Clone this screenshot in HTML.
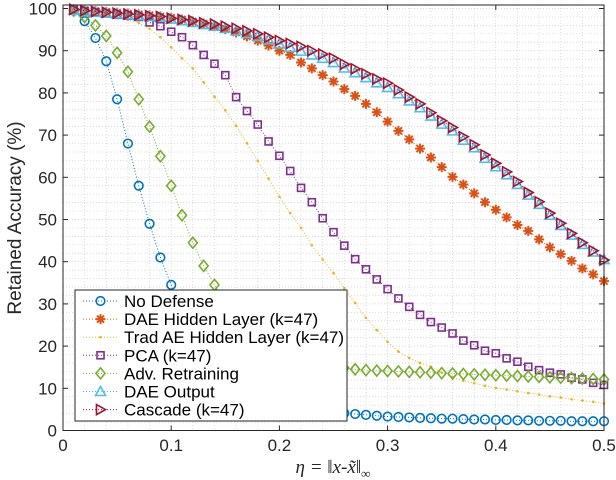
<!DOCTYPE html>
<html><head><meta charset="utf-8"><style>
html,body{margin:0;padding:0;background:#fff;}
svg{display:block;font-family:"Liberation Sans",sans-serif;}
</style></head><body>
<svg id="chart" width="616" height="480" viewBox="0 0 616 480" xmlns="http://www.w3.org/2000/svg">
<rect x="0" y="0" width="616" height="480" fill="#fff"/>
<g id="grid"></g>
<g id="series"></g>
<rect x="63" y="5" width="541" height="425.5" fill="none" stroke="#262626" stroke-width="1"/>
<g id="ticks"></g>
<text transform="translate(21,218) rotate(-90)" text-anchor="middle" font-size="19" fill="#262626">Retained Accuracy (%)</text>
<text x="333" y="473" text-anchor="middle" font-size="19" fill="#262626" font-family="Liberation Serif,serif" font-style="italic">η = ‖x-x̃‖<tspan font-size="13" dy="5">∞</tspan></text>
<g id="legend"></g>
</svg>
<script>
const xs = [0.01,0.02,0.03,0.04,0.05,0.06,0.07,0.08,0.09,0.10,0.11,0.12,0.13,0.14,0.15,0.16,0.17,0.18,0.19,0.20,0.21,0.22,0.23,0.24,0.25,0.26,0.27,0.28,0.29,0.30,0.31,0.32,0.33,0.34,0.35,0.36,0.37,0.38,0.39,0.40,0.41,0.42,0.43,0.44,0.45,0.46,0.47,0.48,0.49,0.50];
const noDefense = [99.5,97,93,87.5,78.5,68,58,49,41,34.5,29,24.5,20.5,17,14.5,12.5,10.5,9.3,8.2,7,6.3,5.6,5,4.7,4.4,4.1,3.9,3.7,3.5,3.3,3.2,3.1,3.0,2.9,2.8,2.8,2.7,2.6,2.6,2.5,2.5,2.4,2.4,2.3,2.3,2.3,2.2,2.2,2.2,2.2];
const daeHidden = [99.8,99.6,99.4,99.2,99,98.8,98.6,98.4,98.1,97.8,97.4,96.9,96.4,95.8,95.1,94.3,93.4,92.4,91.2,90,89,87.2,85.8,84.2,82.7,80.9,79.3,77.4,75.4,73.2,71,69,66.8,64.7,62.4,60.1,58.3,56.2,54.1,52.3,50.5,48.7,47.3,45.3,43.4,41.8,40.2,38.4,37,35.4];
const tradAE = [99.5,99.2,98.8,98.4,97.9,97.3,96.6,95.2,93.2,90.8,88.2,85.8,82.5,79.1,75.9,72.2,68.1,63.9,59.7,55.4,51.5,48,43.9,40.5,37.3,33.7,30.2,26.7,23.8,21,18.7,17.2,16,15.1,13.7,12.7,11.8,11.2,10.6,10.1,9.7,9.3,8.9,8.5,8.1,7.8,7.4,7.1,6.8,6.4];
const pca = [99.7,99.4,99.1,98.8,98.5,98.3,98,96.7,95.8,94.5,93.2,91.3,89,86.9,84.2,79,75.7,72.5,68.5,65.1,61.5,57.5,54.1,50.3,47,43.8,40.6,38.2,35.8,33.5,31.3,29.3,27.4,25.7,24.4,23,21.3,20.2,18.9,18.3,17.1,16.3,15.1,14.3,13.7,13.3,12.5,12.1,11.3,10.8];
const advRetrain = [99.5,98,96,93.5,89.5,85,78.5,72,65,58,51,44.5,39,34.5,30,27,24.5,22,20,18.5,17.5,17,16.3,15.8,15.3,14.8,14.5,14.3,14.2,14.1,14,13.9,13.8,13.7,13.6,13.5,13.4,13.3,13.2,13.1,13,12.9,12.8,12.7,12.6,12.5,12.4,12.3,12.2,12.1];
const daeOutput = [99.6,99.3,99.1,98.9,98.7,98.5,98.3,98.1,97.9,97.5,97.1,96.7,96.2,95.8,95.3,94.7,94.1,93.4,92.6,91.6,90.8,89.9,89,88.2,87.2,85.9,84.8,83.6,82.4,81.3,79.8,78.1,76.5,74.5,72.6,71,68.8,67,64.5,62.5,60.6,58.3,55.8,53.6,51,48.6,46.3,44.1,42.3,40.5];
const cascade = [99.8,99.5,99.3,99.1,98.9,98.7,98.5,98.3,98.1,97.7,97.4,97.1,96.6,96.3,95.8,95.3,94.7,94,93.2,92.4,91.7,91,90,89.2,88.2,86.8,85.7,84.5,83.3,82.3,80.7,79,77.4,75.3,73.4,71.8,69.6,67.7,65.3,63.3,61.3,59,56.4,54.2,51.5,49.1,46.7,44.5,42.6,40.4];
const xTicks = [0,0.1,0.2,0.3,0.4,0.5];
const yTicks = [0,10,20,30,40,50,60,70,80,90,100];
const seriesNames = ["No Defense","DAE Hidden Layer (k=47)","Trad AE Hidden Layer (k=47)","PCA (k=47)","Adv. Retraining","DAE Output","Cascade (k=47)"];

const NS="http://www.w3.org/2000/svg";
const X0=63,X1=604,Y0=430.5,PY=4.22;
function sx(v){return X0+(X1-X0)*v/0.5;}
function sy(v){return Y0-v*PY;}
function mk(tag,attrs,parent){const e=document.createElementNS(NS,tag);for(const k in attrs)e.setAttribute(k,attrs[k]);parent.appendChild(e);return e;}

const grid=document.getElementById('grid');
for(let i=1;i<25;i++){const v=i*0.02;const l=mk('line',{x1:sx(v),x2:sx(v),y1:5,y2:Y0,stroke:'#cfcfcf','stroke-width':0.7,'stroke-dasharray':'1,2'},grid);

}
for(let v=2;v<=100;v+=2){const l=mk('line',{x1:X0,x2:X1,y1:sy(v),y2:sy(v),stroke:'#cfcfcf','stroke-width':0.7,'stroke-dasharray':'1,2'},grid);

}

const ticks=document.getElementById('ticks');
xTicks.forEach(v=>{
 mk('line',{x1:sx(v),x2:sx(v),y1:Y0,y2:Y0-5,stroke:'#262626'},ticks);
 mk('line',{x1:sx(v),x2:sx(v),y1:5,y2:10,stroke:'#262626'},ticks);
 const t=mk('text',{x:sx(v),y:451,'text-anchor':'middle','font-size':17,fill:'#262626'},ticks);t.textContent=String(v);
 
 
});
yTicks.forEach(v=>{
 mk('line',{x1:X0,x2:X0+5,y1:sy(v),y2:sy(v),stroke:'#262626'},ticks);
 mk('line',{x1:X1,x2:X1-5,y1:sy(v),y2:sy(v),stroke:'#262626'},ticks);
 const t=mk('text',{x:57,y:sy(v)+6,'text-anchor':'end','font-size':17,fill:'#262626'},ticks);t.textContent=String(v);
 
 
});

const colors=['#0072BD','#D95319','#EDB120','#7E2F8E','#77AC30','#4DBEEE','#A2142F'];
const kinds=['circle','star','dot','square','diamond','tri','rtri'];
function marker(kind,x,y,c,g){
 if(kind==='circle')return mk('circle',{cx:x,cy:y,r:4.3,fill:'none',stroke:c,'stroke-width':1.6},g);
 if(kind==='dot')return mk('circle',{cx:x,cy:y,r:1.3,fill:c},g);
 if(kind==='square')return mk('rect',{x:x-3.5,y:y-3.5,width:7,height:7,fill:'none',stroke:c,'stroke-width':1.6},g);
 if(kind==='diamond')return mk('path',{d:`M${x},${y-5.5}L${x+4.5},${y}L${x},${y+5.5}L${x-4.5},${y}Z`,fill:'none',stroke:c,'stroke-width':1.6},g);
 if(kind==='tri')return mk('path',{d:`M${x},${y-5}L${x+5},${y+4}L${x-5},${y+4}Z`,fill:'none',stroke:c,'stroke-width':1.6},g);
 if(kind==='rtri')return mk('path',{d:`M${x-4},${y-5}L${x+5},${y}L${x-4},${y+5}Z`,fill:'none',stroke:c,'stroke-width':1.6},g);
 let d='';for(let a=0;a<4;a++){const t=a*Math.PI/4;d+=`M${x-5*Math.cos(t)},${y-5*Math.sin(t)}L${x+5*Math.cos(t)},${y+5*Math.sin(t)}`;}
 return mk('path',{d:d,stroke:c,'stroke-width':2,fill:'none'},g);
}
const allSeries=[noDefense,daeHidden,tradAE,pca,advRetrain,daeOutput,cascade];
const sg=document.getElementById('series');
allSeries.forEach((ys,i)=>{
 const g=mk('g',{},sg);
 
 
 const pts=xs.map((x,j)=>sx(x)+','+sy(ys[j])).join(' ');
 const pl=mk('polyline',{points:pts,fill:'none',stroke:colors[i],'stroke-width':1,'stroke-dasharray':'1,2'},g);
 
 
 xs.forEach((x,j)=>{const m=marker(kinds[i],sx(x),sy(ys[j]),colors[i],g);
  
  });
});

const lg=document.getElementById('legend');
const box=mk('rect',{x:75,y:290,width:272,height:131,fill:'#fff',stroke:'#262626','stroke-width':1},lg);


seriesNames.forEach((n,i)=>{
 const y=301+i*18.1;
 const g=mk('g',{},lg);
 
 
 mk('line',{x1:83,x2:118,y1:y,y2:y,stroke:colors[i],'stroke-width':1,'stroke-dasharray':'1,2'},g);
 marker(kinds[i],100.5,y,colors[i],g);
 const t=mk('text',{x:124,y:y+6,'font-size':17,fill:'#000'},g);t.textContent=n;
});
</script>
</body></html>
